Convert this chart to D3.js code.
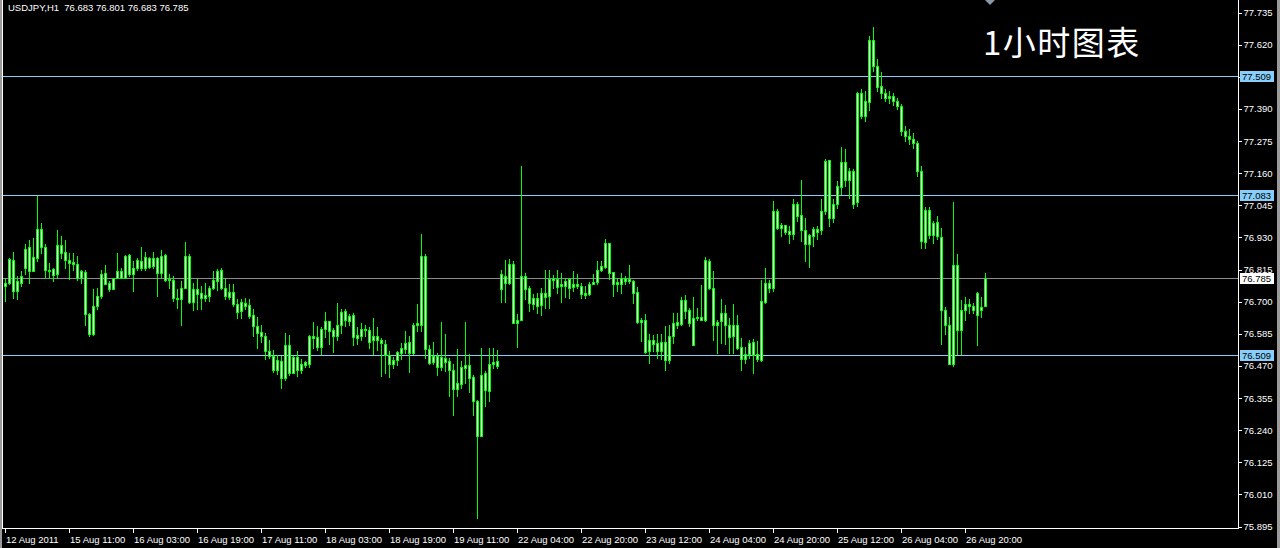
<!DOCTYPE html>
<html><head><meta charset="utf-8">
<script src="https://cdn.jsdelivr.net/npm/d3@7"></script>
<style>html,body{margin:0;padding:0;background:#000;overflow:hidden}</style>
</head><body>
<svg id="chart" width="1280" height="548"></svg>
<script>
const symbolTitle = "USDJPY,H1  76.683 76.801 76.683 76.785";
const chartNote = "1小时图表";

const opens = [76.756,76.768,76.848,76.738,76.768,76.821,76.895,76.808,76.857,76.959,76.895,76.813,76.816,76.798,76.902,76.877,76.849,76.841,76.833,76.786,
76.806,76.656,76.584,76.684,76.719,76.802,76.766,76.744,76.784,76.810,76.786,76.867,76.798,76.819,76.845,76.819,76.855,76.826,76.855,76.804,
76.867,76.777,76.779,76.714,76.708,76.750,76.863,76.700,76.744,76.730,76.714,76.720,76.748,76.774,76.812,76.750,76.718,76.734,76.690,76.666,
76.694,76.688,76.652,76.612,76.590,76.576,76.525,76.505,76.455,76.487,76.425,76.546,76.445,76.501,76.457,76.483,76.475,76.576,76.573,76.537,
76.602,76.630,76.597,76.576,76.616,76.666,76.630,76.651,76.570,76.576,76.602,76.600,76.561,76.576,76.564,76.549,76.509,76.475,76.490,76.517,
76.531,76.556,76.517,76.616,76.618,76.863,76.529,76.483,76.507,76.465,76.499,76.487,76.457,76.389,76.405,76.463,76.473,76.430,76.345,76.219,
76.445,76.379,76.475,76.487,76.746,76.791,76.768,76.836,76.624,76.636,76.792,76.750,76.692,76.714,76.688,76.730,76.720,76.777,76.780,76.756,
76.756,76.780,76.752,76.762,76.756,76.732,76.726,76.764,76.770,76.815,76.823,76.911,76.806,76.764,76.764,76.786,76.774,76.774,76.734,76.628,
76.636,76.523,76.561,76.552,76.523,76.555,76.490,76.576,76.618,76.621,76.706,76.669,76.546,76.640,76.645,76.636,76.845,76.750,76.616,76.630,
76.658,76.616,76.576,76.616,76.537,76.493,76.511,76.555,76.511,76.490,76.700,76.768,76.748,77.025,76.963,76.975,76.953,76.941,77.051,77.010,
76.956,76.905,76.935,76.961,76.956,77.025,77.207,77.001,77.049,77.112,77.201,77.137,77.168,77.055,77.447,77.366,77.413,77.635,77.545,77.473,
77.446,77.430,77.437,77.419,77.401,77.312,77.294,77.283,77.269,77.168,76.915,77.027,76.938,76.985,76.932,76.670,76.615,76.477,76.831,76.600,
76.669,76.690,76.684,76.651,76.671,76.683];

const highs = [76.786,76.857,76.878,76.792,76.808,76.905,76.920,76.927,77.078,76.983,76.905,76.839,76.821,76.956,76.935,76.920,76.875,76.875,76.863,76.815,
76.812,76.660,76.744,76.750,76.812,76.830,76.774,76.786,76.875,76.821,76.867,76.871,76.845,76.857,76.895,76.878,76.859,76.878,76.859,76.884,
76.869,76.798,76.792,76.744,76.774,76.915,76.869,76.768,76.780,76.756,76.768,76.756,76.810,76.817,76.819,76.780,76.762,76.762,76.708,76.708,
76.714,76.708,76.672,76.646,76.616,76.588,76.564,76.528,76.508,76.505,76.588,76.582,76.505,76.523,76.493,76.487,76.582,76.626,76.612,76.609,
76.664,76.630,76.605,76.696,76.672,76.672,76.656,76.660,76.610,76.624,76.618,76.609,76.642,76.609,76.568,76.564,76.523,76.501,76.523,76.552,
76.594,76.576,76.624,76.690,76.943,76.869,76.546,76.556,76.517,76.628,76.584,76.499,76.475,76.531,76.487,76.628,76.513,76.439,76.349,76.534,
76.451,76.534,76.534,76.528,76.812,76.848,76.851,76.845,76.654,77.186,76.804,76.756,76.726,76.732,76.750,76.812,76.812,76.795,76.815,76.804,
76.786,76.786,76.808,76.798,76.768,76.756,76.770,76.798,76.845,76.845,76.924,76.911,76.806,76.786,76.804,76.792,76.830,76.777,76.752,76.642,
76.654,76.584,76.579,76.584,76.584,76.612,76.618,76.658,76.660,76.718,76.724,76.678,76.718,76.678,76.758,76.859,76.851,76.810,76.636,76.708,
76.688,76.642,76.690,76.652,76.570,76.537,76.564,76.567,76.558,76.777,76.821,76.777,77.061,77.031,76.983,76.975,76.971,77.069,77.058,77.135,
77.001,76.941,76.967,76.971,77.067,77.210,77.207,77.067,77.132,77.255,77.246,77.180,77.174,77.449,77.461,77.455,77.652,77.682,77.569,77.523,
77.462,77.455,77.448,77.430,77.409,77.330,77.319,77.305,77.276,77.186,77.039,77.039,76.989,77.007,76.965,76.680,76.645,77.058,76.871,76.706,
76.716,76.708,76.696,76.735,76.716,76.801];

const lows = [76.702,76.762,76.712,76.708,76.756,76.798,76.768,76.808,76.845,76.875,76.786,76.786,76.774,76.786,76.857,76.821,76.780,76.815,76.777,76.768,
76.618,76.576,76.580,76.672,76.714,76.762,76.738,76.744,76.784,76.784,76.784,76.792,76.738,76.815,76.812,76.815,76.819,76.821,76.720,76.786,
76.774,76.750,76.702,76.678,76.616,76.748,76.696,76.669,76.672,76.672,76.702,76.702,76.744,76.741,76.744,76.708,76.708,76.684,76.642,76.642,
76.672,76.642,76.576,76.534,76.556,76.493,76.499,76.448,76.441,76.391,76.421,76.437,76.444,76.433,76.445,76.467,76.467,76.534,76.528,76.513,
76.573,76.548,76.520,76.564,76.588,76.612,76.618,76.544,76.548,76.561,76.576,76.534,76.513,76.528,76.433,76.445,76.430,76.463,76.473,76.493,
76.517,76.447,76.513,76.594,76.594,76.499,76.475,76.477,76.437,76.457,76.451,76.361,76.293,76.361,76.391,76.409,76.376,76.295,75.927,76.218,
76.325,76.343,76.463,76.463,76.698,76.698,76.762,76.624,76.537,76.636,76.708,76.666,76.672,76.660,76.652,76.676,76.676,76.750,76.732,76.700,
76.716,76.714,76.738,76.750,76.714,76.714,76.723,76.762,76.762,76.810,76.821,76.780,76.720,76.738,76.732,76.762,76.768,76.696,76.624,76.558,
76.517,76.481,76.523,76.499,76.496,76.457,76.481,76.552,76.606,76.616,76.642,76.612,76.544,76.636,76.636,76.630,76.744,76.564,76.517,76.552,
76.548,76.517,76.517,76.532,76.457,76.481,76.499,76.445,76.487,76.487,76.696,76.735,76.738,76.959,76.935,76.941,76.911,76.923,76.989,76.917,
76.845,76.823,76.899,76.923,76.941,77.013,76.971,76.986,77.034,77.087,77.114,77.072,77.034,77.043,77.359,77.348,77.386,77.524,77.455,77.429,
77.419,77.412,77.405,77.391,77.297,77.276,77.265,77.251,77.150,76.891,76.893,76.929,76.911,76.923,76.547,76.585,76.477,76.469,76.513,76.513,
76.633,76.660,76.660,76.544,76.645,76.683];

const closes = [76.768,76.851,76.738,76.774,76.792,76.887,76.810,76.859,76.959,76.895,76.812,76.808,76.796,76.903,76.875,76.849,76.839,76.833,76.786,76.810,
76.654,76.584,76.684,76.720,76.798,76.764,76.744,76.784,76.810,76.786,76.862,76.798,76.819,76.849,76.819,76.859,76.823,76.855,76.803,76.863,
76.778,76.782,76.712,76.708,76.750,76.863,76.700,76.746,76.728,76.712,76.724,76.748,76.778,76.810,76.750,76.720,76.734,76.690,76.664,76.698,
76.684,76.648,76.612,76.588,76.576,76.525,76.505,76.457,76.490,76.425,76.546,76.445,76.501,76.457,76.477,76.473,76.576,76.570,76.537,76.602,
76.630,76.594,76.576,76.618,76.664,76.633,76.648,76.573,76.580,76.602,76.600,76.556,76.576,76.562,76.552,76.509,76.475,76.490,76.519,76.534,
76.551,76.517,76.618,76.624,76.863,76.529,76.481,76.507,76.467,76.501,76.484,76.457,76.389,76.407,76.465,76.473,76.427,76.345,76.219,76.439,
76.385,76.475,76.483,76.469,76.798,76.768,76.836,76.624,76.636,76.792,76.744,76.696,76.714,76.684,76.732,76.718,76.780,76.784,76.752,76.762,
76.774,76.750,76.762,76.756,76.728,76.723,76.764,76.770,76.815,76.827,76.911,76.804,76.764,76.771,76.784,76.774,76.780,76.732,76.628,76.636,
76.519,76.562,76.549,76.523,76.555,76.490,76.576,76.624,76.627,76.706,76.666,76.624,76.642,76.645,76.636,76.848,76.748,76.616,76.627,76.658,
76.616,76.573,76.616,76.534,76.493,76.511,76.552,76.509,76.493,76.702,76.768,76.748,77.025,76.965,76.975,76.951,76.941,77.051,77.007,76.956,
76.907,76.938,76.959,76.951,77.025,77.204,77.001,77.051,77.114,77.201,77.136,77.168,77.051,77.447,77.366,77.419,77.635,77.544,77.467,77.446,
77.430,77.437,77.419,77.401,77.312,77.294,77.283,77.269,77.168,76.917,77.027,76.938,76.981,76.935,76.669,76.615,76.477,76.831,76.600,76.670,
76.690,76.683,76.669,76.730,76.680,76.785];

const timeLabels = ["12 Aug 2011","15 Aug 11:00","16 Aug 03:00","16 Aug 19:00","17 Aug 11:00","18 Aug 03:00","18 Aug 19:00","19 Aug 11:00",
"22 Aug 04:00","22 Aug 20:00","23 Aug 12:00","24 Aug 04:00","24 Aug 20:00","25 Aug 12:00","26 Aug 04:00","26 Aug 20:00"];
const timeLabelBars = [0,16,32,48,64,80,96,112,128,144,160,176,192,208,224,240];
const priceTicks = [77.735,77.620,77.505,77.390,77.275,77.160,77.045,76.930,76.815,76.700,76.585,76.470,76.355,76.240,76.125,76.010,75.895];
const levelLines = [77.509,77.083,76.509];
const lastPrice = 76.785;

const W = 1280, H = 548;
const plotRight = 1238, plotBottom = 528;
const GREEN = "#00ff00", BODY_IN = "#eaffea", LEVEL = "#87cefa", FONT = "'Liberation Sans', Arial, sans-serif";
const FS = "9.5px";

const svg = d3.select("#chart");
svg.append("rect").attr("width", W).attr("height", H).attr("fill", "#000");

const bars = d3.range(closes.length);
const x = d3.scaleBand().domain(bars).range([3, 3 + 4 * bars.length]).padding(0);
const cx = i => Math.round(x(i) + x.bandwidth() / 2);
const y = d3.scaleLinear().domain([75.895, 77.735]).range([526.5, 12.5]);
const py = v => Math.round(y(v));

const g = svg.append("g").attr("shape-rendering", "crispEdges");

// level lines
levelLines.forEach(v => {
  g.append("line").attr("x1", 2).attr("x2", plotRight).attr("y1", py(v) + 0.5).attr("y2", py(v) + 0.5)
    .attr("stroke", LEVEL).attr("stroke-width", 1);
});
g.append("line").attr("x1", 2).attr("x2", plotRight).attr("y1", py(lastPrice) + 0.5).attr("y2", py(lastPrice) + 0.5)
  .attr("stroke", "#8c8c8c").attr("stroke-width", 1);

// candles
const candles = g.append("g");
bars.forEach(i => {
  const c = cx(i);
  const yh = py(highs[i]), yl = py(lows[i]);
  const yt = py(Math.max(opens[i], closes[i])), yb = py(Math.min(opens[i], closes[i]));
  candles.append("rect").attr("x", c).attr("y", yh).attr("width", 1).attr("height", Math.max(1, yl - yh + 1)).attr("fill", GREEN);
  candles.append("rect").attr("x", c - 1).attr("y", yt).attr("width", 3).attr("height", Math.max(1, yb - yt + 1)).attr("fill", GREEN);
  if (yb - yt >= 2) {
    candles.append("rect").attr("x", c).attr("y", yt + 1).attr("width", 1).attr("height", yb - yt - 1).attr("fill", BODY_IN);
  }
});

// frame
g.append("rect").attr("x", 0).attr("y", 0).attr("width", 2).attr("height", H).attr("fill", "#9a9a9a");
g.append("rect").attr("x", 2).attr("y", 0).attr("width", 1).attr("height", plotBottom + 1).attr("fill", "#ffffff");
g.append("rect").attr("x", W - 3).attr("y", 0).attr("width", 3).attr("height", H).attr("fill", "#9a9a9a");
g.append("line").attr("x1", plotRight + 0.5).attr("x2", plotRight + 0.5).attr("y1", 0).attr("y2", plotBottom + 1).attr("stroke", "#fff");
g.append("line").attr("x1", 2).attr("x2", plotRight + 1).attr("y1", plotBottom + 0.5).attr("y2", plotBottom + 0.5).attr("stroke", "#fff");

// price axis
const yAxis = d3.axisRight(y).tickValues(priceTicks).tickFormat(d3.format(".3f")).tickSize(3).tickPadding(2);
const ya = svg.append("g").attr("transform", `translate(${plotRight + 0.5},0)`).call(yAxis);
ya.select(".domain").remove();
ya.selectAll(".tick line").attr("stroke", "#fff").attr("shape-rendering", "crispEdges");
ya.selectAll(".tick text").attr("fill", "#fff").attr("font-family", FONT).attr("font-size", FS);

// time axis
const xAxis = d3.axisBottom(x).tickValues(timeLabelBars).tickFormat(i => timeLabels[timeLabelBars.indexOf(i)]).tickSize(4).tickPadding(2);
const xa = svg.append("g").attr("transform", `translate(0,${plotBottom + 0.5})`).call(xAxis);
xa.select(".domain").remove();
xa.selectAll(".tick line").attr("stroke", "#fff").attr("shape-rendering", "crispEdges");
xa.selectAll(".tick text").attr("fill", "#fff").attr("font-family", FONT).attr("font-size", FS)
  .attr("text-anchor", "start").attr("x", 1).attr("dy", "0.85em");

// level price boxes
function priceBox(v, fill) {
  const yy = py(v);
  svg.append("rect").attr("x", plotRight + 2).attr("y", yy - 5).attr("width", 34).attr("height", 11)
    .attr("fill", fill).attr("shape-rendering", "crispEdges");
  svg.append("text").attr("x", plotRight + 4).attr("y", yy + 0.5).attr("dy", "0.35em")
    .attr("font-family", FONT).attr("font-size", FS).attr("fill", "#000").text(d3.format(".3f")(v));
}
levelLines.forEach(v => priceBox(v, LEVEL));
priceBox(lastPrice, "#ffffff");

// header text
svg.append("text").attr("x", 8).attr("y", 11).attr("fill", "#fff").attr("font-family", FONT).attr("font-size", FS)
  .attr("xml:space", "preserve").style("white-space", "pre").text(symbolTitle);

// note
svg.append("text").attr("x", 983).attr("y", 55).attr("fill", "#fff")
  .attr("font-family", "'Noto Sans CJK SC', sans-serif").attr("font-size", "33px").attr("letter-spacing", "1.5px").text(chartNote);

// shift marker
svg.append("path").attr("d", "M985,0 L995,0 L990,5 Z").attr("fill", "#8a97a6");
</script>
</body></html>
